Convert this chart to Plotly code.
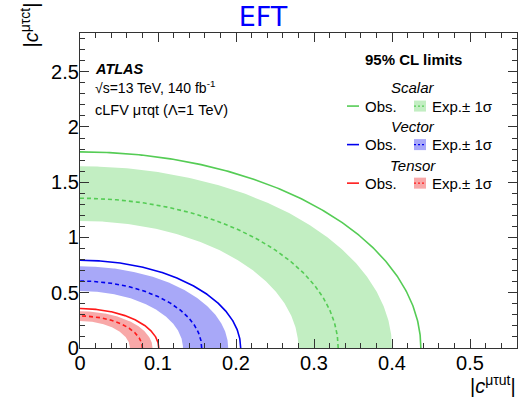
import numpy as np
import plotly.graph_objects as go

# ---- data ----
models = ["Scalar", "Vector", "Tensor"]
# observed limit ellipse intercepts (x: |c_ut|, y: |c_ct|)
obs_x = [0.437, 0.206, 0.101]
obs_y = [1.775, 0.794, 0.357]
# expected limit ellipse intercepts
exp_x = [0.331, 0.156, 0.080]
exp_y = [1.355, 0.606, 0.290]
# +-1 sigma band intercepts
band_hi_x = [0.400, 0.190, 0.093]
band_hi_y = [1.644, 0.739, 0.332]
band_lo_x = [0.280, 0.132, 0.064]
band_lo_y = [1.150, 0.516, 0.244]

x_ticks = [0, 0.1, 0.2, 0.3, 0.4, 0.5]
x_ticklabels = ["0", "0.1", "0.2", "0.3", "0.4", "0.5"]
y_ticks = [0, 0.5, 1, 1.5, 2, 2.5]
y_ticklabels = ["0", "0.5", "1", "1.5", "2", "2.5"]

line_colors = ["#55cc55", "#0000ee", "#ff1a1a"]
band_colors = ["#c2eec2", "#a8a8f8", "#f8a8a8"]

W, H = 518, 400
L, R, T, B = 80, 1, 33, 52.3
PW, PH = W - L - R, H - T - B

t = np.linspace(0, np.pi / 2, 200)


def quarter(ax, by):
    return ax * np.cos(t), by * np.sin(t)


fig = go.Figure()
for i, m in enumerate(models):
    ox, oy = quarter(band_hi_x[i], band_hi_y[i])
    ix, iy = quarter(band_lo_x[i], band_lo_y[i])
    fig.add_trace(go.Scatter(
        x=np.concatenate([ox, ix[::-1]]), y=np.concatenate([oy, iy[::-1]]),
        fill="toself", fillcolor=band_colors[i], line=dict(width=0),
        mode="lines", hoverinfo="skip", showlegend=False))
for i, m in enumerate(models):
    ex, ey = quarter(exp_x[i], exp_y[i])
    fig.add_trace(go.Scatter(x=ex, y=ey, mode="lines",
                             line=dict(color=line_colors[i], width=1.6, dash="4px,3px"),
                             showlegend=False))
    obx, oby = quarter(obs_x[i], obs_y[i])
    fig.add_trace(go.Scatter(x=obx, y=oby, mode="lines",
                             line=dict(color=line_colors[i], width=1.6),
                             showlegend=False))


def px(xp):
    return (xp - L) / PW


def py(yp):
    return (H - B - yp) / PH


FONT = "Liberation Sans, Arial, sans-serif"
ann = []
shapes = []


def text(x, y, s, size, anchor="left", color="black", family=FONT):
    ann.append(dict(x=px(x), y=py(y), xref="paper", yref="paper", xanchor=anchor, yanchor="middle",
                    text=s, showarrow=False, borderpad=0,
                    font=dict(family=family, size=size, color=color)))


# ATLAS labels
text(94, 69, "<b><i>ATLAS</i></b>", 14.5)
text(94, 87, "√s=13 TeV, 140 fb<sup>-1</sup>", 14)
text(94, 110, "cLFV μτqt (Λ=1 TeV)", 14.5)

# Legend
text(413, 59.5, "<b>95% CL limits</b>", 15, anchor="center")
head_y = [87, 126.5, 165]
row_y = [106, 144.5, 183]
for i, m in enumerate(models):
    text(413, head_y[i], "<i>%s</i>" % m, 15, anchor="center")
    yy = py(row_y[i])
    shapes.append(dict(type="line", xref="paper", yref="paper", x0=px(347), x1=px(359), y0=yy, y1=yy,
                       line=dict(color=line_colors[i], width=1.6)))
    text(364, row_y[i], "Obs.", 15)
    shapes.append(dict(type="rect", xref="paper", yref="paper", x0=px(414), x1=px(426),
                       y0=py(row_y[i] + 5.5), y1=py(row_y[i] - 5.5),
                       fillcolor=band_colors[i], line=dict(width=0)))
    shapes.append(dict(type="line", xref="paper", yref="paper", x0=px(414), x1=px(426), y0=yy, y1=yy,
                       line=dict(color=line_colors[i], width=1.3, dash="2px,2px")))
    text(431, row_y[i], "Exp.± 1σ", 15)

# Axis titles
text(517, 384, "|<i>c</i><sup>μτut</sup>|", 20, anchor="right")
ann.append(dict(x=px(29), y=py(2), xref="paper", yref="paper", xanchor="center", yanchor="top",
                text="|<i>c</i><sup>μτct</sup>|", textangle=-90, showarrow=False, borderpad=0,
                font=dict(family=FONT, size=20, color="black")))

axis_common = dict(showgrid=False, zeroline=False, showline=True, linecolor="#333333", linewidth=1.2,
                   mirror="ticks", ticks="inside", ticklen=9, tickwidth=1, tickcolor="#333333",
                   tickfont=dict(family=FONT, size=20, color="black"))

fig.update_layout(
    width=W, height=H,
    margin=dict(l=L, r=R, t=T, b=B),
    paper_bgcolor="white", plot_bgcolor="white",
    title=dict(text="EFT", x=(263) / W, xanchor="center", y=1 - 17 / H, yanchor="middle",
               font=dict(family="DejaVu Sans, sans-serif", size=27, color="#0000ff")),
    xaxis=dict(range=[0, PW / 780.0], tickvals=x_ticks, ticktext=x_ticklabels,
               minor=dict(dtick=0.02, tick0=0, ticks="inside", ticklen=5, tickcolor="#333333"),
               ticklabelstandoff=-3, **axis_common),
    yaxis=dict(range=[0, PH / 110.4], tickvals=y_ticks, ticktext=y_ticklabels,
               minor=dict(dtick=0.1, tick0=0, ticks="inside", ticklen=5, tickcolor="#333333"),
               ticklabelstandoff=-4, **axis_common),
    annotations=ann, shapes=shapes, showlegend=False,
)

fig.write_html("out.html")
